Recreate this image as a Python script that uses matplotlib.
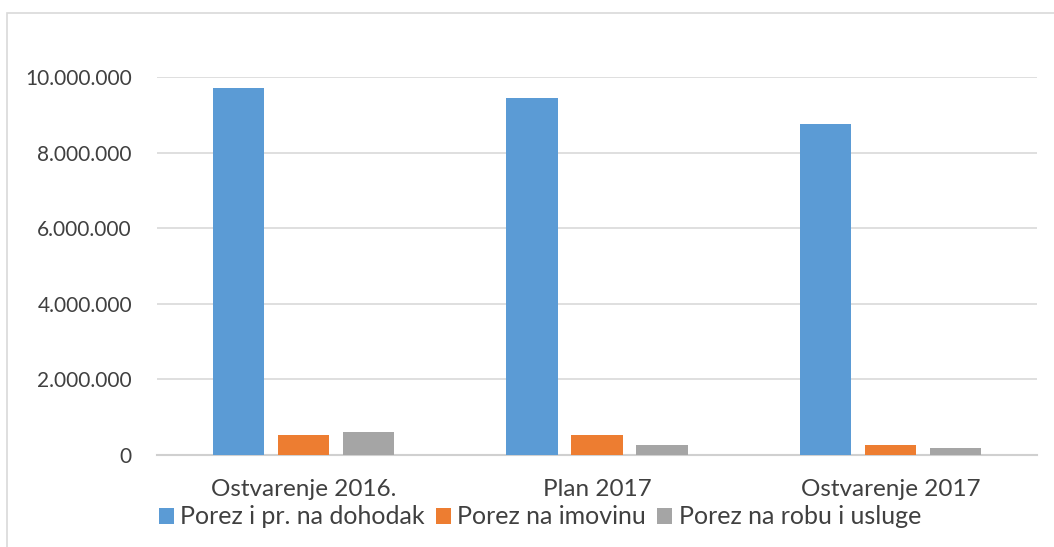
import matplotlib
matplotlib.use("Agg")
import matplotlib.pyplot as plt
from matplotlib.patches import Rectangle
import numpy as np

categories = ["Ostvarenje 2016.", "Plan 2017", "Ostvarenje 2017"]
series_names = ["Porez i pr. na dohodak", "Porez na imovinu", "Porez na robu i usluge"]
dohodak = [9710000, 9440000, 8760000]
imovina = [520000, 540000, 260000]
robu = [600000, 260000, 190000]
yticks = [0, 2000000, 4000000, 6000000, 8000000, 10000000]
ytick_labels = ["0", "2.000.000", "4.000.000", "6.000.000", "8.000.000", "10.000.000"]
colors = ["#5B9BD5", "#ED7D31", "#A5A5A5"]

plt.rcParams['font.family'] = ['Lato', 'DejaVu Sans']

fig = plt.figure(figsize=(10.54, 5.47), dpi=100)
fig.patches.append(Rectangle((7/1054, -0.01), 1.1, 1 - 13/547 + 0.01, transform=fig.transFigure,
                             fill=False, edgecolor="#d9d9d9", linewidth=1.2))
ax = fig.add_axes([157/1054, 1 - 455/547, 880/1054, 378/547])

x = np.arange(len(categories))
w = 0.175
off = 0.222
for i, (vals, name) in enumerate(zip([dohodak, imovina, robu], series_names)):
    ax.bar(x + (i - 1) * off, vals, width=w, color=colors[i], label=name, zorder=3)

ax.set_xlim(-0.5, 2.5)
ax.set_ylim(0, 10000000)
ax.set_yticks(yticks)
ax.set_yticklabels(ytick_labels, fontsize=15, color="#404040")
ax.set_xticks(x)
ax.set_xticklabels(categories, fontsize=17.5, color="#404040")
ax.tick_params(axis='both', length=0)
ax.tick_params(axis='y', pad=18)
ax.tick_params(axis='x', pad=17)
ax.yaxis.grid(True, color="#d9d9d9", linewidth=1.2, zorder=0)
for s in ["top", "right", "left"]:
    ax.spines[s].set_visible(False)
ax.spines["bottom"].set_color("#d0d0d0")
ax.spines["bottom"].set_linewidth(1.5)

leg = fig.legend(loc="center", bbox_to_anchor=(540/1054, 1 - 517/547), ncol=3, frameon=False,
                 fontsize=18, handlelength=0.6, handleheight=0.6, handletextpad=0.25,
                 columnspacing=0.45, labelcolor="#404040")
fig.savefig("out.png", dpi=100)
